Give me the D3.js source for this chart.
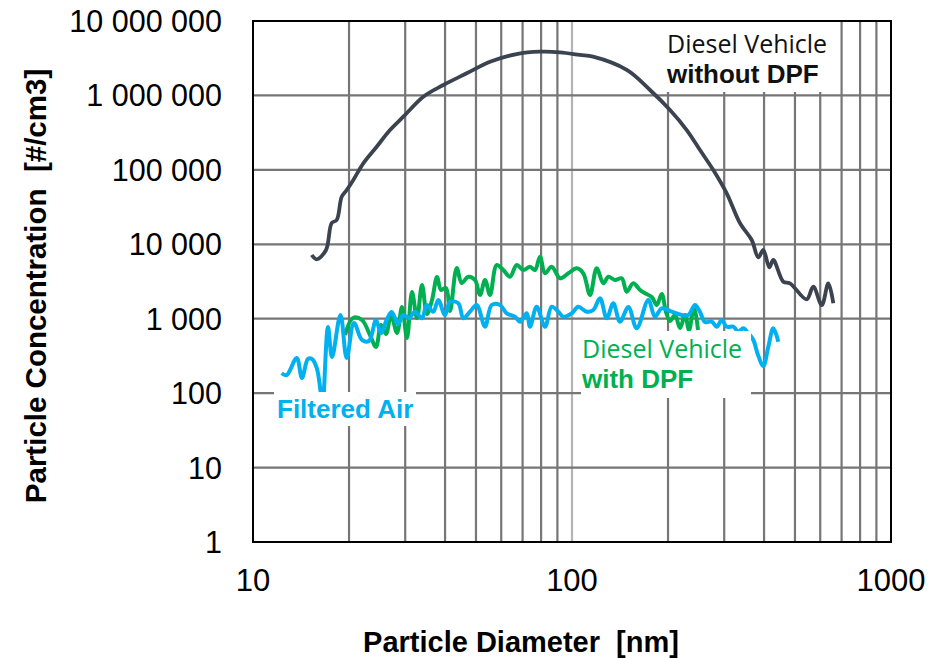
<!DOCTYPE html>
<html><head><meta charset="utf-8">
<script src="https://cdn.jsdelivr.net/npm/d3@7"></script>
<style>html,body{margin:0;padding:0;background:#fff;}svg{display:block;}</style>
</head><body>
<svg id="chart" width="947" height="658"></svg>
<script>
// ---- data ----
const xTicks = [10, 100, 1000];
const yTicks = [1, 10, 100, 1000, 10000, 100000, 1000000, 10000000];

const noDpfD = [15.28,15.84,16.94,17.65,18.30,18.97,19.67,20.63,22.17,24.42,26.88,29.60,34.19,39.52,46.77,55.34,67.09,79.39,91.71,105.9,116.4,148.5,175.6,202.9,228.9,251.9,277.3,305.5,336.3,365.9,383.7,397.9,415.5,427.6,459.6,482.4,544.1,570.6,606.5,636.0,659.4];
const noDpfC = [7180,6285,8375,19320,21200,43560,53600,73100,122500,204700,343000,517600,961600,1380000,1983000,2838000,3599000,3866000,3797000,3494000,3313000,2197000,1183000,637000,343000,184800,99500,48400,19140,11420,6680,8375,4908,6150,3142,2991,1823,2692,1528,2991,1611];

const dpfD = [19.43,20.58,21.96,23.27,24.30,25.19,26.12,27.08,28.28,29.31,30.39,31.51,32.67,33.87,35.11,36.41,37.75,38.85,40.28,41.46,43.51,45.11,47.31,49.66,51.48,53.38,55.34,58.07,60.90,63.91,67.09,70.37,73.85,76.56,79.39,82.29,86.37,91.71,97.37,103.4,108.5,113.9,119.5,125.4,130.0,136.4,143.2,148.4,155.6,163.4,169.4,177.8,184.4,191.1,197.1,202.9,210.3,218.1,226.1,232.7,241.2,248.3];
const dpfC = [604,1023,961,604,417,823,623,1122,643,1437,551,2286,1023,2839,1157,1784,3635,2432,2586,1270,4803,3019,3669,3313,2083,3313,2083,5268,4513,3669,5268,4513,4998,4513,6814,4076,4998,3492,4076,4757,4076,2083,4757,2991,3669,3313,3492,2307,2991,2432,2195,1957,1529,2149,1231,932,1122,750,1122,705,1437,705];

const airD = [12.30,12.75,13.71,14.24,14.87,15.31,15.84,16.34,16.52,17.18,17.69,18.80,19.66,20.73,21.96,23.10,24.30,25.19,26.31,27.22,28.48,29.60,30.84,32.20,33.87,35.04,36.74,38.09,39.99,41.46,44.02,45.63,47.88,50.26,53.38,56.01,59.46,62.41,66.27,68.70,72.11,73.85,77.50,82.29,86.37,90.58,93.91,99.78,104.6,111.2,116.6,122.4,128.5,134.7,141.4,150.2,159.5,173.5,182.0,191.1,205.4,220.8,231.6,243.0,251.9,261.2,274.2,284.3,294.7,305.5,320.4,332.2,344.4,356.3,370.2,382.9,397.8,412.4,427.6,443.4];
const airC = [185,175,297,160,288,288,218,94,59,774,306,1122,297,876,518,502,961,643,991,1231,849,1122,1023,1243,1013,1529,1243,1784,1122,1693,1612,1013,1243,1529,781,1529,1529,1182,1064,912,1182,781,1450,781,1450,1243,1064,1182,1450,1243,1310,1881,1013,1612,912,1437,743,1784,1064,1380,1243,1122,1122,1529,1231,903,912,781,961,781,781,669,743,643,518,325,232,417,743,491];

const labels = [
  {lines:["Diesel Vehicle","without DPF"], color:"#111"},
  {lines:["Diesel Vehicle","with DPF"], color:"#00b050"},
  {lines:["Filtered Air"], color:"#00b0f0"}
];
const xTitle = "Particle Diameter\u00a0 [nm]";
const yTitle = "Particle Concentration\u00a0 [#/cm3]";

// ---- chart ----
const svg = d3.select("#chart");
const L = 253, R = 891, T = 21, B = 542;
const x = d3.scaleLog().domain([10, 1000]).range([L, R]);
const y = d3.scaleLog().domain([1, 1e7]).range([B, T]);

svg.append("rect").attr("width", 947).attr("height", 658).attr("fill", "#fff");

// vertical grid
const vGrid = [];
[10, 100].forEach(b => { for (let k = 2; k <= 9; k++) vGrid.push(b * k); });
vGrid.push(100);
svg.append("g").selectAll("line").data(vGrid).join("line")
  .attr("x1", d => x(d)).attr("x2", d => x(d)).attr("y1", T).attr("y2", B)
  .attr("stroke", d => d === 100 ? "#b4b4b4" : "#767676").attr("stroke-width", 2.2);
// horizontal grid
svg.append("g").selectAll("line").data(yTicks.slice(1, -1)).join("line")
  .attr("x1", L).attr("x2", R).attr("y1", d => y(d)).attr("y2", d => y(d))
  .attr("stroke", "#767676").attr("stroke-width", 2.2);

const line = (D, C) => d3.line().curve(d3.curveCatmullRom.alpha(0.5))
  .x((d, i) => x(D[i])).y((d, i) => y(C[i]))(D);

svg.append("path").attr("d", line(noDpfD, noDpfC)).attr("fill", "none")
  .attr("stroke", "#3c4350").attr("stroke-width", 3.8).attr("stroke-linejoin", "round");
svg.append("path").attr("d", line(dpfD, dpfC)).attr("fill", "none")
  .attr("stroke", "#00b050").attr("stroke-width", 4).attr("stroke-linejoin", "round");
svg.append("path").attr("d", line(airD, airC)).attr("fill", "none")
  .attr("stroke", "#00b0f0").attr("stroke-width", 4).attr("stroke-linejoin", "round");

// label boxes
const boxes = [
  {x0: 664, x1: 838, y0: 22, y1: 92, tx: 667, by: [53, 83], lab: labels[0]},
  {x0: 581, x1: 751, y0: 331, y1: 398, tx: 582, by: [358, 388], lab: labels[1]},
  {x0: 274, x1: 416, y0: 392, y1: 426, tx: 277, by: [418], lab: labels[2]}
];
boxes.forEach(b => {
  svg.append("rect").attr("x", b.x0).attr("y", b.y0).attr("width", b.x1 - b.x0).attr("height", b.y1 - b.y0).attr("fill", "#fff");
  b.lab.lines.forEach((t, i) => {
    const isBold = (b.lab.lines.length === 1) || i === 1;
    svg.append("text").attr("x", b.tx).attr("y", b.by[i]).text(t)
      .attr("fill", b.lab.color)
      .attr("font-family", isBold ? "'Liberation Sans', Arial, sans-serif" : "'Open Sans', sans-serif")
      .attr("font-weight", isBold ? 700 : 400)
      .attr("font-size", isBold ? 26 : 25);
  });
});

// frame
svg.append("rect").attr("x", L).attr("y", T).attr("width", R - L).attr("height", B - T)
  .attr("fill", "none").attr("stroke", "#000").attr("stroke-width", 2);

// y tick labels
const fmt = v => d3.format(",")(v).replace(/,/g, " ");
svg.append("g").selectAll("text").data(yTicks).join("text")
  .attr("x", 222).attr("y", d => y(d)).attr("dy", "0.36em")
  .attr("text-anchor", "end").attr("font-family", "'Liberation Sans', Arial, sans-serif")
  .attr("font-size", 30.5).attr("fill", "#000").text(fmt);

// x tick labels
svg.append("g").selectAll("text").data(xTicks).join("text")
  .attr("x", d => x(d)).attr("y", 591).attr("text-anchor", "middle")
  .attr("font-family", "'Liberation Sans', Arial, sans-serif")
  .attr("font-size", 31).attr("fill", "#000").text(d => d);

// axis titles
svg.append("text").attr("x", 521).attr("y", 652).attr("text-anchor", "middle")
  .attr("font-family", "'Liberation Sans Narrow', 'Liberation Sans', sans-serif")
  .attr("font-weight", 700).attr("font-size", 29).attr("fill", "#000")
  .text(xTitle);
svg.append("text").attr("transform", "translate(46,286) rotate(-90)").attr("text-anchor", "middle")
  .attr("font-family", "'Liberation Sans', Arial, sans-serif")
  .attr("font-weight", 700).attr("font-size", 29.5).attr("fill", "#000")
  .text(yTitle);
</script>
</body></html>
